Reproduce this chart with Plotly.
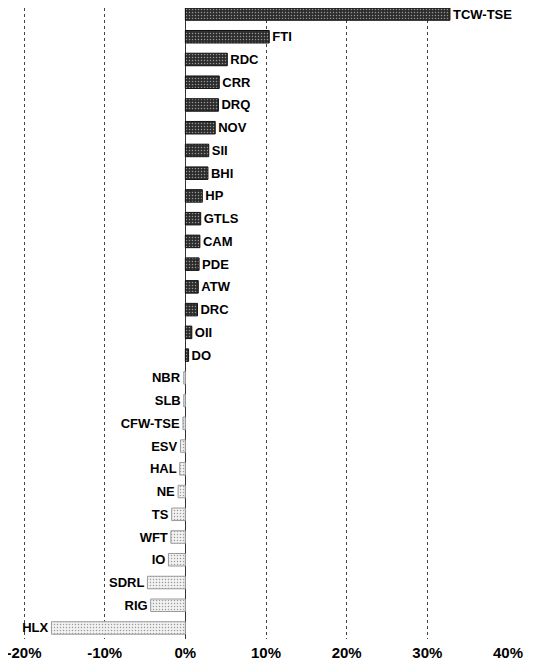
import plotly.graph_objects as go

tickers = ["TCW-TSE", "FTI", "RDC", "CRR", "DRQ", "NOV", "SII", "BHI", "HP", "GTLS",
           "CAM", "PDE", "ATW", "DRC", "OII", "DO", "NBR", "SLB", "CFW-TSE", "ESV",
           "HAL", "NE", "TS", "WFT", "IO", "SDRL", "RIG", "HLX"]
returns = [32.8, 10.4, 5.2, 4.2, 4.1, 3.7, 2.9, 2.8, 2.1, 1.9,
           1.8, 1.7, 1.6, 1.5, 0.8, 0.4, -0.2, -0.2, -0.3, -0.6,
           -0.7, -0.9, -1.7, -1.8, -2.1, -4.7, -4.3, -16.6]
tick_vals = [-20, -10, 0, 10, 20, 30, 40]
tick_text = ["-20%", "-10%", "0%", "10%", "20%", "30%", "40%"]

fill = ["#2c2c2c" if v >= 0 else "#f2f2f2" for v in returns]
edge = ["#111111" if v >= 0 else "#9a9a9a" for v in returns]
pattern_fg = ["#8c8c8c" if v >= 0 else "#a8a8a8" for v in returns]

fig = go.Figure(go.Bar(
    x=returns, y=tickers, orientation="h",
    text=tickers, textposition="outside", cliponaxis=False, constraintext="none",
    textfont=dict(family="Liberation Sans", size=13, color="black", weight="bold"),
    marker=dict(color=fill, line=dict(color=edge, width=1),
                pattern=dict(shape=".", fgcolor=pattern_fg, size=3, solidity=0.2)),
))
# the page adds an 8px body margin, so the figure is sized to fit the 538x664 window
fig.update_layout(
    width=530, height=656, plot_bgcolor="white", paper_bgcolor="white",
    margin=dict(l=12, r=29, t=0, b=25), bargap=0.45, showlegend=False,
    font=dict(family="Liberation Sans", size=14, color="black"),
)
fig.update_xaxes(range=[-20.5, 40.12], tickvals=tick_vals, ticktext=tick_text,
                 automargin=False, ticklabelstandoff=3, ticklabeloverflow="allow",
                 showgrid=True, gridcolor="#444444", griddash="dot", gridwidth=1,
                 zeroline=True, zerolinecolor="#333333", zerolinewidth=1,
                 tickfont=dict(size=15, weight="bold"), ticks="", showline=False)
fig.update_yaxes(range=[len(tickers) - 0.516, -0.264], showticklabels=False,
                 showgrid=False, ticks="", automargin=False)
fig.write_html("out.html")
